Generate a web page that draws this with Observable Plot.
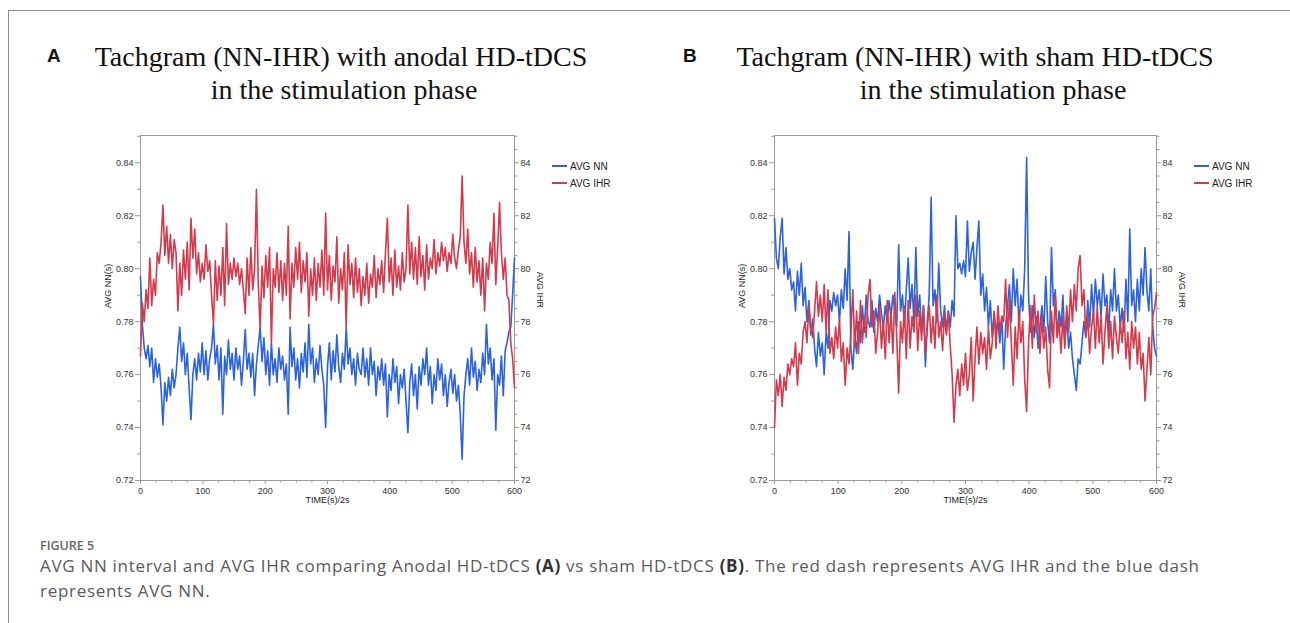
<!DOCTYPE html>
<html><head><meta charset="utf-8">
<script src="https://cdn.jsdelivr.net/npm/d3@7"></script>
<script src="https://cdn.jsdelivr.net/npm/@observablehq/plot@0.6"></script>
<style>
html,body{margin:0;padding:0;background:#fff;}
body{width:1290px;height:623px;overflow:hidden;position:relative;font-family:"Liberation Sans",Arial,sans-serif;}
#border{position:absolute;left:8px;top:10px;width:1300px;height:700px;border-left:1.5px solid #8c8c8c;border-top:1.5px solid #8c8c8c;}
.letter{position:absolute;font:bold 19px "Liberation Sans",Arial,sans-serif;color:#111;}
.tline{position:absolute;font:28px "Liberation Serif","Times New Roman",serif;color:#111;white-space:nowrap;transform:translate(-50%,-50%);}
.panel{position:absolute;top:125px;}
.legend{position:absolute;font:10px "Liberation Sans",Arial,sans-serif;color:#222;}
.legend div{position:relative;height:17px;line-height:17px;white-space:nowrap;}
.legend span.sw{display:inline-block;width:15px;height:2px;vertical-align:middle;margin-right:3px;position:relative;top:-1px;}
#figlabel{position:absolute;left:40px;top:537px;font:600 12.5px "Open Sans",sans-serif;color:#666;}
#caption{position:absolute;left:40px;top:553px;font:17px "Open Sans",sans-serif;letter-spacing:0.7px;color:#5a5a5a;line-height:25px;white-space:nowrap;}
#caption b{color:#333;}
</style></head>
<body>
<div id="border"></div>
<div class="letter" style="left:47px;top:45px">A</div>
<div class="tline" style="left:341px;top:57px">Tachgram (NN-IHR) with anodal HD-tDCS</div>
<div class="tline" style="left:344px;top:90px">in the stimulation phase</div>
<div class="letter" style="left:683px;top:45px">B</div>
<div class="tline" style="left:975px;top:57px">Tachgram (NN-IHR) with sham HD-tDCS</div>
<div class="tline" style="left:993px;top:90px">in the stimulation phase</div>
<div id="pA" class="panel" style="left:95px"></div>
<div id="pB" class="panel" style="left:729px"></div>
<div id="legA" class="legend" style="left:552px;top:158px"></div>
<div id="legB" class="legend" style="left:1194px;top:158px"></div>
<div id="figlabel">FIGURE 5</div>
<div id="caption">AVG NN interval and AVG IHR comparing Anodal HD-tDCS <b>(A)</b> vs sham HD-tDCS <b>(B)</b>. The red dash represents AVG IHR and the blue dash<br>represents AVG NN.</div>
<script>
// time axis: one sample every 3 units of TIME(s)/2s, 0..600
const TIME_STEP = 3;
const SERIES = ["AVG NN", "AVG IHR"];
const COLORS = ["#2d63d8", "#d33a4c"];
const X_TICKS = [0, 100, 200, 300, 400, 500, 600];
const NN_TICKS = [0.72, 0.74, 0.76, 0.78, 0.80, 0.82, 0.84];
const IHR_TICKS = [72, 74, 76, 78, 80, 82, 84];

// Panel A: anodal HD-tDCS
const A_NN = [
0.797,0.779,0.770,0.766,0.771,0.763,0.770,0.757,0.766,0.759,
0.764,0.755,0.741,0.757,0.750,0.759,0.752,0.762,0.755,0.760,
0.770,0.778,0.765,0.772,0.760,0.768,0.755,0.743,0.760,0.766,
0.758,0.768,0.761,0.772,0.760,0.769,0.758,0.766,0.770,0.779,
0.764,0.771,0.758,0.770,0.745,0.767,0.760,0.773,0.762,0.768,
0.758,0.770,0.762,0.767,0.756,0.765,0.777,0.762,0.768,0.759,
0.768,0.752,0.764,0.771,0.778,0.765,0.774,0.760,0.769,0.756,
0.772,0.760,0.766,0.757,0.770,0.762,0.767,0.758,0.764,0.745,
0.778,0.763,0.770,0.758,0.766,0.755,0.768,0.761,0.772,0.759,
0.779,0.764,0.770,0.757,0.766,0.760,0.771,0.762,0.756,0.740,
0.763,0.772,0.758,0.769,0.761,0.775,0.763,0.757,0.768,0.762,
0.778,0.764,0.770,0.760,0.766,0.756,0.768,0.762,0.760,0.770,
0.759,0.766,0.756,0.770,0.760,0.765,0.752,0.763,0.758,0.766,
0.756,0.764,0.744,0.760,0.754,0.766,0.757,0.763,0.749,0.760,
0.755,0.762,0.750,0.738,0.757,0.764,0.752,0.760,0.747,0.763,
0.756,0.766,0.760,0.770,0.756,0.763,0.749,0.760,0.754,0.766,
0.758,0.764,0.752,0.760,0.748,0.757,0.762,0.753,0.760,0.750,
0.756,0.745,0.728,0.752,0.760,0.766,0.756,0.770,0.759,0.765,
0.754,0.762,0.757,0.768,0.760,0.779,0.764,0.770,0.758,0.766,
0.739,0.760,0.756,0.767,0.752,0.769,0.772,0.776,0.778,0.790,
0.804];
const A_IHR = [
76.7,78.7,78.0,79.2,78.5,80.4,78.6,79.6,79.0,80.6,
80.2,81.0,82.4,80.5,81.6,80.2,81.3,80.0,81.1,80.6,
78.4,80.2,79.0,80.7,79.6,81.0,79.2,81.9,80.4,81.5,
79.8,80.6,79.5,80.2,79.6,80.9,79.9,80.3,79.0,77.9,
80.3,78.8,80.1,79.0,80.8,78.6,81.7,79.4,80.2,79.6,
80.4,79.7,80.2,79.4,80.0,79.2,78.3,80.4,79.0,80.8,
79.2,80.0,83.0,79.4,77.7,80.1,78.9,80.5,79.3,80.8,
77.2,80.0,79.3,80.6,79.1,80.3,78.8,80.2,79.0,81.6,
78.1,80.2,79.3,80.8,79.6,81.0,79.1,80.3,79.5,80.6,
78.2,80.0,79.0,80.4,78.8,80.2,79.3,80.7,79.0,82.1,
79.2,80.5,78.8,80.1,79.5,81.2,78.7,80.0,79.2,80.6,
77.8,80.9,79.4,80.2,78.9,80.4,79.1,80.0,78.6,79.7,
79.0,80.2,78.7,79.8,79.3,80.5,78.9,80.0,79.4,80.3,
79.1,80.6,81.9,79.5,80.4,79.0,80.7,79.3,80.1,79.2,
80.6,79.5,80.0,82.4,79.8,81.0,79.6,80.8,79.4,81.2,
79.7,80.5,79.2,80.9,79.6,80.4,80.0,81.1,79.8,80.6,
80.1,81.0,80.3,80.8,79.9,80.6,80.2,81.3,80.4,80.0,
80.7,81.2,83.5,81.0,80.2,81.5,79.8,80.6,79.3,80.8,
79.5,80.3,79.0,80.4,78.4,80.2,79.6,81.0,80.2,82.1,
79.4,80.8,82.5,80.6,79.6,80.4,79.0,78.8,77.2,76.6,
75.5];

// Panel B: sham HD-tDCS
const B_NN = [
0.819,0.804,0.800,0.812,0.819,0.798,0.808,0.796,0.800,0.792,
0.795,0.784,0.799,0.790,0.802,0.786,0.793,0.780,0.788,0.775,
0.781,0.770,0.763,0.776,0.767,0.772,0.760,0.776,0.770,0.788,
0.784,0.791,0.786,0.790,0.780,0.792,0.785,0.800,0.788,0.814,
0.770,0.762,0.775,0.768,0.780,0.772,0.786,0.776,0.790,0.780,
0.778,0.788,0.776,0.785,0.780,0.790,0.783,0.778,0.786,0.780,
0.788,0.782,0.790,0.784,0.778,0.809,0.784,0.790,0.778,0.792,
0.804,0.785,0.794,0.780,0.808,0.782,0.790,0.776,0.786,0.763,
0.780,0.790,0.827,0.786,0.792,0.780,0.802,0.784,0.778,0.786,
0.776,0.784,0.778,0.788,0.782,0.820,0.800,0.802,0.798,0.803,
0.797,0.818,0.799,0.806,0.810,0.796,0.808,0.818,0.790,0.798,
0.784,0.793,0.778,0.788,0.774,0.783,0.776,0.780,0.772,0.782,
0.762,0.778,0.786,0.794,0.780,0.800,0.786,0.796,0.778,0.790,
0.784,0.800,0.842,0.790,0.776,0.786,0.774,0.782,0.770,0.778,
0.786,0.776,0.797,0.780,0.772,0.808,0.786,0.792,0.774,0.784,
0.778,0.790,0.772,0.782,0.770,0.776,0.766,0.760,0.754,0.766,
0.764,0.772,0.780,0.774,0.788,0.778,0.794,0.782,0.796,0.786,
0.792,0.782,0.798,0.786,0.790,0.776,0.792,0.784,0.800,0.784,
0.790,0.778,0.785,0.776,0.796,0.780,0.815,0.786,0.792,0.780,
0.796,0.784,0.800,0.790,0.808,0.792,0.784,0.800,0.778,0.770,
0.767];
const B_IHR = [
74.0,75.8,75.2,76.0,74.8,75.9,75.4,76.4,76.0,76.6,
76.3,77.2,75.6,76.8,76.4,77.6,78.0,77.2,78.6,77.8,
77.4,78.4,79.5,78.2,79.0,78.0,79.4,77.6,79.2,76.8,
77.4,76.6,77.8,77.0,78.1,76.5,77.2,75.6,77.0,76.4,
77.6,79.2,77.0,78.4,76.8,78.8,77.2,78.2,77.4,79.0,
79.6,77.8,78.4,76.8,77.6,78.6,77.0,78.0,76.6,78.8,
77.2,78.4,76.8,79.1,77.4,75.3,78.0,77.2,78.6,76.6,
78.8,77.0,78.2,77.6,79.0,76.9,78.4,77.3,78.6,76.8,
77.8,78.6,77.2,78.2,77.0,79.0,77.4,78.0,76.9,78.3,
77.5,78.4,77.1,76.0,74.2,75.6,76.2,75.2,76.4,75.6,
76.8,75.4,76.0,77.4,75.0,76.6,77.8,76.4,77.6,76.8,
77.4,76.2,77.8,76.6,77.2,78.4,77.0,78.6,77.6,78.2,
78.0,79.6,77.4,78.8,77.2,75.6,77.8,76.6,78.4,77.2,
78.0,75.8,74.6,77.2,78.6,77.0,79.0,77.6,78.4,76.8,
78.2,77.0,77.8,76.2,75.5,78.4,77.2,79.0,77.4,78.0,
76.8,78.2,77.0,78.6,77.6,79.2,78.0,79.4,78.4,80.0,
80.5,78.6,79.2,77.4,78.2,76.8,77.8,78.4,77.0,78.6,
77.2,78.2,76.4,77.6,78.6,77.0,78.0,76.6,78.2,77.4,
76.8,78.0,77.2,78.4,76.6,77.6,76.2,78.0,77.0,77.8,
76.4,77.6,76.2,76.8,75.0,76.2,77.4,76.0,78.2,78.5,
79.1];

const X_MINOR = d3.range(25, 600, 25).filter(v => v % 100 !== 0);
const NN_MINOR = [0.73, 0.75, 0.77, 0.79, 0.81, 0.83, 0.85];
const IHR_MINOR = d3.range(72.5, 85.01, 0.5).filter(v => v % 2 !== 0);

function panel(nn, ihr, plotW) {
  const mL = 45, mR = 45, mT = 10, mB = 35, plotH = 345;
  const axisGray = "#9a9a9a";
  return Plot.plot({
    width: plotW + mL + mR, height: plotH + mT + mB,
    marginLeft: mL, marginRight: mR, marginTop: mT, marginBottom: mB,
    style: {fontFamily: "'Liberation Sans', Arial, sans-serif", fontSize: "9px", color: "#333", background: "white"},
    x: {domain: [0, 600]},
    y: {domain: [0.72, 0.8503]},
    marks: [
      Plot.frame({stroke: axisGray}),
      Plot.axisX(X_TICKS, {anchor: "bottom", tickSize: 4, tickPadding: 3, stroke: axisGray, fill: "#333", label: null}),
      Plot.axisX(X_MINOR, {anchor: "bottom", tickSize: 2.5, tickFormat: () => "", stroke: axisGray, label: null}),
      Plot.axisY(NN_TICKS, {anchor: "left", tickSize: 5, tickPadding: 2, stroke: axisGray, fill: "#333", tickFormat: d3.format(".2f"), label: null}),
      Plot.axisY(NN_MINOR, {anchor: "left", tickSize: 3, tickFormat: () => "", stroke: axisGray, label: null}),
      Plot.axisY(IHR_TICKS.map(v => v / 100), {anchor: "right", tickSize: 4, tickPadding: 2, stroke: axisGray, fill: "#333", tickFormat: d => String(Math.round(d * 100)), label: null}),
      Plot.axisY(IHR_MINOR.map(v => v / 100), {anchor: "right", tickSize: 2.5, tickFormat: () => "", stroke: axisGray, label: null}),
      Plot.lineY(nn, {x: (d, i) => i * TIME_STEP, y: d => d, stroke: COLORS[0], strokeWidth: 1.6}),
      Plot.lineY(ihr, {x: (d, i) => i * TIME_STEP, y: d => d / 100, stroke: COLORS[1], strokeWidth: 1.6}),
      Plot.text(["AVG NN(s)"], {text: d => d, frameAnchor: "left", dx: -32, rotate: -90, fill: "#222", fontSize: 9}),
      Plot.text(["AVG IHR"], {text: d => d, frameAnchor: "right", dx: 25, rotate: 90, fill: "#222", fontSize: 9}),
      Plot.text(["TIME(s)/2s"], {text: d => d, frameAnchor: "bottom", dy: 22, fill: "#222", fontSize: 9})
    ]
  });
}

document.getElementById("pA").appendChild(panel(A_NN, A_IHR, 374));
document.getElementById("pB").appendChild(panel(B_NN, B_IHR, 382));

for (const id of ["legA", "legB"]) {
  const el = document.getElementById(id);
  SERIES.forEach((s, i) => {
    const row = document.createElement("div");
    row.innerHTML = `<span class="sw" style="background:${COLORS[i]}"></span>${s}`;
    el.appendChild(row);
  });
}
</script>
</body></html>
